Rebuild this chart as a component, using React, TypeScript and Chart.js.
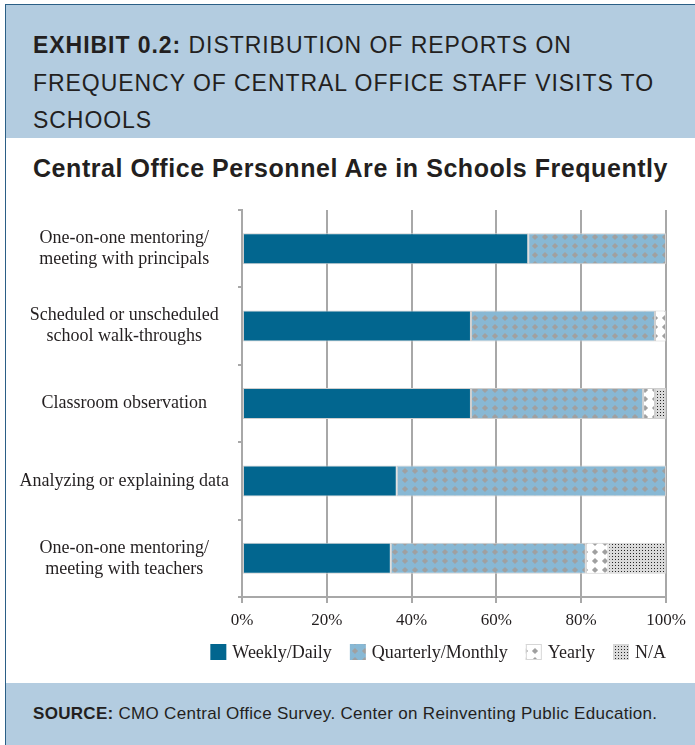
import React, { useEffect, useRef } from "react";
import { Chart, registerables } from "chart.js";

Chart.register(...registerables);

const categories: string[][] = [
  ["One-on-one mentoring/", "meeting with principals"],
  ["Scheduled or unscheduled", "school walk-throughs"],
  ["Classroom observation"],
  ["Analyzing or explaining data"],
  ["One-on-one mentoring/", "meeting with teachers"],
];
const seriesNames = ["Weekly/Daily", "Quarterly/Monthly", "Yearly", "N/A"];
const weeklyDaily = [67.5, 54, 54, 36.5, 35.1];
const quarterlyMonthly = [32.5, 43.4, 40.6, 63.5, 46];
const yearly = [null, 2.6, 2.8, null, 5.3];
const notApplicable = [null, null, 2.6, null, 13.6];
const xTickValues = [0, 20, 40, 60, 80, 100];

const TEXT = "#231f20";
const GRID = "#a8a8a8";
const SERIF = "'Liberation Serif', 'DejaVu Serif', serif";
const SANS = "'Liberation Sans', Arial, sans-serif";

function diamond(g: CanvasRenderingContext2D, cx: number, cy: number, r: number) {
  g.beginPath();
  g.moveTo(cx, cy - r);
  g.lineTo(cx + r, cy);
  g.lineTo(cx, cy + r);
  g.lineTo(cx - r, cy);
  g.closePath();
  g.fill();
}

function makePattern(
  ctx: CanvasRenderingContext2D,
  w: number,
  h: number,
  bg: string,
  draw: (g: CanvasRenderingContext2D) => void
): CanvasPattern | string {
  const c = document.createElement("canvas");
  c.width = w;
  c.height = h;
  const g = c.getContext("2d")!;
  g.fillStyle = bg;
  g.fillRect(0, 0, w, h);
  draw(g);
  return ctx.createPattern(c, "repeat") || bg;
}

export default function App() {
  const canvasRef = useRef<HTMLCanvasElement | null>(null);

  useEffect(() => {
    const canvas = canvasRef.current!;
    const ctx = canvas.getContext("2d")!;

    const diamondTile = (bg: string) =>
      makePattern(ctx, 10, 9, bg, (g) => {
        g.fillStyle = "#a0a0a0";
        diamond(g, 0, 0, 3.1);
        diamond(g, 10, 0, 3.1);
        diamond(g, 0, 9, 3.1);
        diamond(g, 10, 9, 3.1);
      });
    const quarterlyFill = diamondTile("#88b8d4");
    const yearlyFill = diamondTile("#ffffff");
    const naFill = makePattern(ctx, 3, 3, "#dadada", (g) => {
      g.fillStyle = "#262626";
      g.fillRect(1, 1, 1, 1);
    });
    const fills: (string | CanvasPattern)[] = ["#02668f", quarterlyFill, yearlyFill, naFill];
    const values = [weeklyDaily, quarterlyMonthly, yearly, notApplicable];

    const legendPlugin = {
      id: "customLegend",
      afterDraw(chart: any) {
        const c = chart.ctx as CanvasRenderingContext2D;
        const area = chart.chartArea;
        c.save();
        c.font = `18px ${SERIF}`;
        const box = 16;
        const gap = 6;
        const spacing = 18;
        const widths = seriesNames.map((n) => box + gap + c.measureText(n).width);
        const total = widths.reduce((a, b) => a + b, 0) + spacing * (seriesNames.length - 1);
        let x = area.right - total;
        const cy = area.bottom + 55;
        seriesNames.forEach((name, i) => {
          c.fillStyle = fills[i] as any;
          c.fillRect(x, cy - box / 2, box, box);
          if (i >= 2) {
            c.strokeStyle = "#d6d6d6";
            c.lineWidth = 1;
            c.strokeRect(x + 0.5, cy - box / 2 + 0.5, box - 1, box - 1);
          }
          c.fillStyle = TEXT;
          c.textBaseline = "middle";
          c.textAlign = "left";
          c.fillText(name, x + box + gap, cy + 1);
          x += widths[i] + spacing;
        });
        c.restore();
      },
    };

    const chart = new Chart(ctx, {
      type: "bar",
      data: {
        labels: categories,
        datasets: seriesNames.map((name, i) => ({
          label: name,
          data: values[i] as any,
          backgroundColor: fills[i] as any,
          borderColor: "#cfcfcf",
          borderWidth: 1,
          borderSkipped: false,
          categoryPercentage: 0.4,
          barPercentage: 1,
        })),
      },
      options: {
        indexAxis: "y",
        animation: false,
        responsive: true,
        maintainAspectRatio: false,
        layout: { padding: { top: 18, right: 29, bottom: 40, left: 0 } },
        plugins: {
          legend: { display: false },
          tooltip: { enabled: false },
          title: { display: false },
        },
        scales: {
          x: {
            stacked: true,
            min: 0,
            max: 100,
            afterBuildTicks: (scale: any) => {
              scale.ticks = xTickValues.map((v) => ({ value: v }));
            },
            afterFit: (scale: any) => {
              scale.height = 40;
            },
            ticks: {
              callback: (v: any) => `${v}%`,
              font: { family: SERIF, size: 17 },
              color: TEXT,
              padding: 7,
            },
            grid: {
              color: GRID,
              lineWidth: 2,
              drawTicks: true,
              tickLength: 6,
            },
            border: { display: true, color: GRID, width: 2 },
          },
          y: {
            stacked: true,
            afterFit: (scale: any) => {
              scale.width = 237;
              scale.paddingTop = 0;
              scale.paddingBottom = 0;
            },
            ticks: {
              crossAlign: "center",
              font: { family: SERIF, size: 18, lineHeight: 1.17 },
              color: TEXT,
              padding: 9,
            },
            grid: {
              display: true,
              drawOnChartArea: false,
              drawTicks: true,
              tickLength: 4,
              offset: true,
              color: GRID,
              lineWidth: 2,
            },
            border: { display: true, color: GRID, width: 2 },
          },
        },
      },
      plugins: [legendPlugin],
    } as any);

    return () => chart.destroy();
  }, []);

  return (
    <div
      style={{
        position: "absolute",
        left: 0,
        top: 0,
        width: 695,
        height: 745,
        overflow: "hidden",
        background: "#ffffff",
        fontFamily: SANS,
        color: TEXT,
      }}
    >
      <div
        style={{
          position: "absolute",
          left: 5,
          top: 4,
          right: -10,
          bottom: -10,
          borderLeft: "1.5px solid #2b5f86",
          borderTop: "1.5px solid #2b5f86",
        }}
      />
      <div
        style={{
          position: "absolute",
          left: 6,
          top: 5,
          width: 689,
          height: 133,
          background: "#b3cce0",
        }}
      />
      <div
        style={{
          position: "absolute",
          left: 33,
          top: 27,
          fontSize: 23,
          letterSpacing: 0.95,
          lineHeight: "37.5px",
          whiteSpace: "nowrap",
        }}
      >
        <b>EXHIBIT 0.2:</b> DISTRIBUTION OF REPORTS ON
        <br />
        FREQUENCY OF CENTRAL OFFICE STAFF VISITS TO
        <br />
        SCHOOLS
      </div>
      <div
        style={{
          position: "absolute",
          left: 33,
          top: 153,
          fontSize: 25,
          letterSpacing: 0.55,
          lineHeight: "30px",
          fontWeight: "bold",
          whiteSpace: "nowrap",
        }}
      >
        Central Office Personnel Are in Schools Frequently
      </div>
      <div
        style={{
          position: "absolute",
          left: 5,
          top: 192,
          width: 690,
          height: 485,
        }}
      >
        <canvas ref={canvasRef} />
      </div>
      <div
        style={{
          position: "absolute",
          left: 6,
          top: 683,
          width: 689,
          height: 62,
          background: "#b3cce0",
        }}
      />
      <div
        style={{
          position: "absolute",
          left: 33,
          top: 704,
          fontSize: 17,
          letterSpacing: 0.3,
          lineHeight: "20px",
          whiteSpace: "nowrap",
        }}
      >
        <b>SOURCE:</b> CMO Central Office Survey. Center on Reinventing Public Education.
      </div>
    </div>
  );
}
